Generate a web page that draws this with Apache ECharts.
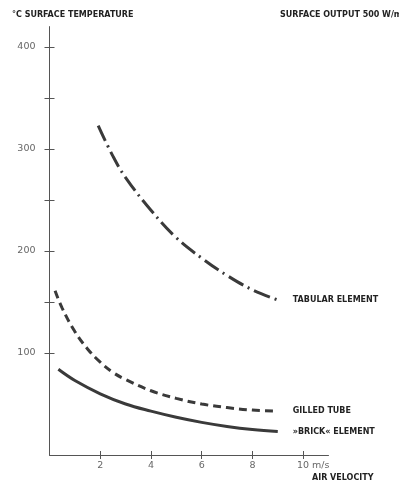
<!DOCTYPE html>
<html><head><meta charset="utf-8">
<script src="https://cdn.jsdelivr.net/npm/echarts@6/dist/echarts.min.js"></script>
<style>html,body{margin:0;padding:0;background:#fff}#c{width:399px;height:481px}</style>
</head><body><div id="c"></div>
<script>
// Data
const tabularX = [1.92, 2.5, 3, 4, 5, 6, 7, 8, 9];
const tabularY = [323, 293, 272, 240, 213, 193, 176, 162, 152];
const gilledX = [0.22, 0.5, 1, 1.5, 2, 2.5, 3, 4, 5, 6, 7, 8, 9];
const gilledY = [161, 144, 121, 104, 91, 81, 74, 63, 55.5, 50, 46.5, 44, 43];
const brickX = [0.35, 1, 2, 3, 4, 5, 6, 7, 8, 9];
const brickY = [84, 73, 60, 50, 43, 37, 32, 28, 25, 23];
const yTicks = [100, 150, 200, 250, 300, 350, 400];
const yLabels = [100, 200, 300, 400];
const xTicks = [2, 4, 6, 8, 10];
const seriesNames = ['TABULAR ELEMENT', 'GILLED TUBE', '»BRICK« ELEMENT'];

const pairs = (xs, ys) => xs.map((x, i) => [x, ys[i]]);
const lineColor = '#3a3a3a';
const txt = '#222';
const font = 'DejaVu Sans, sans-serif';
const tickFont = 'DejaVu Sans, sans-serif';

const chart = echarts.init(document.getElementById('c'), null, {renderer: 'canvas'});
const gridBox = {left: 49.5, top: 26.6, width: 279, height: 428.4};
const axisLine = {show: true, lineStyle: {color: '#555', width: 1}};
const endLabel = {
  show: true, formatter: p => p.seriesName, distance: 15,
  color: txt, fontSize: 8, fontWeight: 'bold', fontFamily: font
};
const titleStyle = {fontSize: 8, fontWeight: 'bold', color: txt, fontFamily: font};
chart.setOption({
  animation: false,
  grid: [Object.assign({}, gridBox), Object.assign({}, gridBox)],
  title: [
    {text: '°C SURFACE TEMPERATURE', left: 12, top: 11, padding: 0, textStyle: titleStyle},
    {text: 'SURFACE OUTPUT 500 W/m²', left: 280, top: 11, padding: 0, textStyle: titleStyle},
    {text: 'AIR VELOCITY', left: 312, top: 474, padding: 0, textStyle: titleStyle}
  ],
  xAxis: [
    {type: 'value', gridIndex: 0, min: 0, max: 11, axisLine, splitLine: {show: false},
      axisTick: {show: true, length: 4, customValues: xTicks, lineStyle: {color: '#555'}},
      axisLabel: {show: true, customValues: xTicks, margin: 6, color: '#666', fontSize: 9.5, fontFamily: tickFont,
        formatter: v => v === 10 ? '{w|10 m/s}' : String(v),
        rich: {w: {padding: [0, 0, 0, 20], color: '#666', fontSize: 9.5, fontFamily: tickFont}}}
    },
    {type: 'value', gridIndex: 1, min: 0, max: 11, axisLine: {show: false}, splitLine: {show: false},
      axisTick: {show: true, inside: true, length: 4, customValues: xTicks, lineStyle: {color: '#555'}},
      axisLabel: {show: false}
    }
  ],
  yAxis: [
    {type: 'value', gridIndex: 0, min: 0, max: 420, axisLine, splitLine: {show: false},
      axisTick: {show: true, length: 5, customValues: yTicks, lineStyle: {color: '#555'}},
      axisLabel: {show: true, customValues: yLabels, margin: 14, color: '#666', fontSize: 9.5, fontFamily: tickFont}
    },
    {type: 'value', gridIndex: 1, min: 0, max: 420, axisLine: {show: false}, splitLine: {show: false},
      axisTick: {show: true, inside: true, length: 5, customValues: yTicks, lineStyle: {color: '#555'}},
      axisLabel: {show: false}
    }
  ],
  series: [
    {name: seriesNames[0], type: 'line', smooth: 0.4, symbol: 'none',
     data: pairs(tabularX, tabularY),
     lineStyle: {color: lineColor, width: 3, type: [17, 5, 2, 5]}, endLabel},
    {name: seriesNames[1], type: 'line', smooth: 0.4, symbol: 'none',
     data: pairs(gilledX, gilledY),
     lineStyle: {color: lineColor, width: 3, type: [8, 5]}, endLabel},
    {name: seriesNames[2], type: 'line', smooth: 0.4, symbol: 'none',
     data: pairs(brickX, brickY),
     lineStyle: {color: lineColor, width: 3}, endLabel}
  ]
});
</script></body></html>
